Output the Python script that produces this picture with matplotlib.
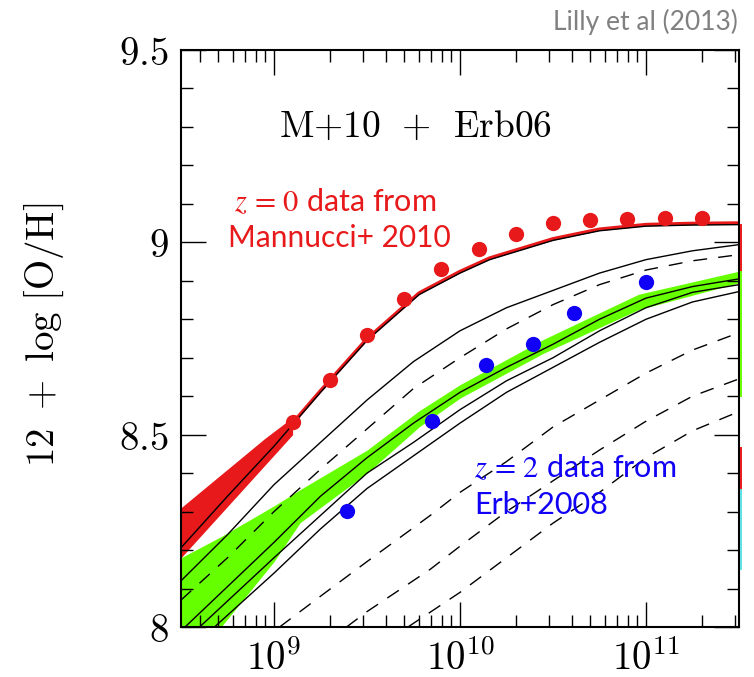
import numpy as np
import matplotlib.pyplot as plt
from matplotlib.ticker import FixedLocator, MultipleLocator, NullFormatter

plt.rcParams['mathtext.fontset'] = 'cm'

# z=0 data (Mannucci+ 2010): log stellar mass, 12+log(O/H)
mannucci_logm = [9.1, 9.3, 9.5, 9.7, 9.9, 10.1, 10.3, 10.5, 10.7, 10.9, 11.1, 11.3]
mannucci_oh = [8.534, 8.643, 8.760, 8.853, 8.931, 8.983, 9.022, 9.051, 9.058, 9.061, 9.064, 9.064]

# z=2 data (Erb+ 2006/2008)
erb_logm = [9.395, 9.847, 10.142, 10.395, 10.615, 11.001]
erb_oh = [8.301, 8.536, 8.682, 8.736, 8.817, 8.897]

# model curves: (log M, 12+log O/H)
solid_1 = [(8.5, 8.206), (8.75, 8.34), (9.0, 8.47), (9.25, 8.61), (9.5, 8.745), (9.78, 8.864),
           (10.0, 8.92), (10.16, 8.955), (10.5, 9.005), (10.75, 9.03), (11.0, 9.042),
           (11.25, 9.045), (11.5, 9.046)]
solid_2 = [(8.5, 8.12), (8.75, 8.24), (9.0, 8.37), (9.25, 8.48), (9.5, 8.59), (9.75, 8.69),
           (10.0, 8.77), (10.25, 8.83), (10.5, 8.875), (10.75, 8.92), (11.0, 8.955),
           (11.25, 8.978), (11.5, 8.994)]
solid_3 = [(8.5, 7.99), (9.0, 8.22), (9.25, 8.34), (9.5, 8.44), (9.75, 8.53),
           (10.0, 8.61), (10.25, 8.675), (10.5, 8.735), (10.75, 8.80), (11.0, 8.855),
           (11.25, 8.885), (11.5, 8.905)]
solid_4 = [(8.6, 8.0), (9.0, 8.18), (9.25, 8.29), (9.5, 8.40), (9.75, 8.48),
           (10.0, 8.565), (10.25, 8.64), (10.5, 8.70), (10.75, 8.77), (11.0, 8.83),
           (11.25, 8.87), (11.5, 8.89)]
solid_5 = [(8.68, 8.0), (9.0, 8.14), (9.25, 8.255), (9.5, 8.36), (9.75, 8.445),
           (10.0, 8.53), (10.25, 8.61), (10.5, 8.675), (10.75, 8.74), (11.0, 8.80),
           (11.25, 8.845), (11.5, 8.872)]
dashed_1 = [(8.5, 8.07), (8.75, 8.18), (9.0, 8.30), (9.25, 8.41), (9.5, 8.515), (9.75, 8.62),
            (10.0, 8.70), (10.25, 8.775), (10.5, 8.838), (10.75, 8.89), (11.0, 8.928),
            (11.25, 8.952), (11.5, 8.968)]
dashed_2 = [(9.03, 8.0), (9.25, 8.08), (9.5, 8.17), (9.84, 8.29), (10.0, 8.35), (10.25, 8.43),
            (10.5, 8.52), (10.75, 8.59), (11.0, 8.66), (11.25, 8.72), (11.5, 8.765)]
dashed_3 = [(9.39, 8.0), (9.5, 8.04), (9.84, 8.15), (10.0, 8.21), (10.25, 8.30), (10.5, 8.38),
            (10.75, 8.46), (11.0, 8.535), (11.25, 8.60), (11.5, 8.645)]
dashed_4 = [(9.72, 8.0), (10.0, 8.09), (10.25, 8.18), (10.5, 8.27), (10.75, 8.35),
            (11.0, 8.44), (11.25, 8.51), (11.5, 8.56)]

# shaded ranges: log M, lower, upper
red_band_logm = [8.5, 8.65, 8.8, 8.95, 9.1]
red_band_lo = [8.18, 8.26, 8.34, 8.42, 8.50]
red_band_hi = [8.31, 8.37, 8.43, 8.49, 8.545]

green_band_logm = [8.5, 8.715, 9.0, 9.14, 9.5, 9.78, 10.0, 10.45, 10.96, 11.5]
green_band_lo = [7.9, 8.0, 8.17, 8.271, 8.40, 8.52, 8.595, 8.712, 8.825, 8.895]
green_band_hi = [8.18, 8.235, 8.315, 8.357, 8.46, 8.562, 8.63, 8.748, 8.865, 8.925]

# coloured bits from the neighbouring panel, on the right edge
edge_bits = [('#e8191a', 8.923, 9.045), ('#66ff00', 8.60, 8.923),
             ('#e8191a', 8.357, 8.466), ('#5ce1e6', 8.15, 8.357)]

RED = '#e8191a'
BLUE = '#1000f5'
GREEN = '#66ff00'


def unpack(curve):
    lm, oh = zip(*curve)
    return 10 ** np.array(lm), np.array(oh)


fig = plt.figure(figsize=(7.54, 6.77), dpi=100)
ax = fig.add_axes([181 / 754, 1 - 627 / 677, 558 / 754, 577 / 677])
ax.set_xscale('log')

ax.fill_between(10 ** np.array(green_band_logm), green_band_lo, green_band_hi,
                color=GREEN, lw=0, zorder=1)
ax.fill_between(10 ** np.array(red_band_logm), red_band_lo, red_band_hi,
                color=RED, lw=0, zorder=1)

x, y = unpack(solid_1)
ax.plot(x, y + 0.004, color=RED, lw=2.6, zorder=2, solid_joinstyle='round')
for c in [solid_1, solid_2, solid_3, solid_4, solid_5]:
    x, y = unpack(c)
    ax.plot(x, y, color='black', lw=1.0, zorder=3, solid_joinstyle='round')
for c in [dashed_1, dashed_2, dashed_3, dashed_4]:
    x, y = unpack(c)
    ax.plot(x, y, color='black', lw=1.0, dashes=(10, 8), zorder=3)

ax.plot(10 ** np.array(mannucci_logm), mannucci_oh, 'o', color=RED, ms=11, mec='none', zorder=4)
ax.plot(10 ** np.array(erb_logm), erb_oh, 'o', color=BLUE, ms=11, mec='none', zorder=4)

for col, lo, hi in edge_bits:
    ax.plot([1.003, 1.003], [lo, hi], color=col, lw=1.4, transform=ax.get_yaxis_transform(),
            clip_on=False, zorder=5)

ax.set_xlim(10 ** 8.5, 10 ** 11.5)
ax.set_ylim(8, 9.5)

ax.xaxis.set_major_locator(FixedLocator([1e9, 1e10, 1e11]))
ax.set_xticklabels([r'$10^{9}$', r'$10^{10}$', r'$10^{11}$'])
ax.xaxis.set_minor_locator(FixedLocator([k * 10 ** e for e in range(8, 12) for k in range(2, 10)]))
ax.xaxis.set_minor_formatter(NullFormatter())
ax.set_yticks([8, 8.5, 9, 9.5])
ax.set_yticklabels([r'$8$', r'$8.5$', r'$9$', r'$9.5$'])
ax.yaxis.set_minor_locator(MultipleLocator(0.1))

ax.tick_params(which='both', direction='in', top=True, right=True, width=1.0, labelsize=28)
ax.tick_params(which='major', length=18, pad=9)
ax.tick_params(which='minor', length=8.5)
for s in ax.spines.values():
    s.set_linewidth(1.5)

fig.text(44 / 754, 1 - 335 / 677, r'$\mathrm{12\ +\ log\ [O/H]}$', rotation=90,
         ha='center', va='center', fontsize=28)

ax.text(0.421, 0.867, r'$\mathrm{M{+}10\ \ {+}\ \ Erb06}$', ha='center', va='center',
        fontsize=27, transform=ax.transAxes)

ax.text(0.095, 0.738, r'$z\,=\,0$ data from', color=RED, fontsize=22, family='Lato',
        math_fontfamily='stix', ha='left', va='center', transform=ax.transAxes)
ax.text(0.084, 0.675, 'Mannucci+ 2010', color=RED, fontsize=21.5, family='Lato',
        ha='left', va='center', transform=ax.transAxes)
ax.text(0.525, 0.277, r'$z\,=\,2$ data from', color=BLUE, fontsize=22, family='Lato',
        math_fontfamily='stix', ha='left', va='center', transform=ax.transAxes)
ax.text(0.525, 0.2114, 'Erb+2008', color=BLUE, fontsize=22, family='Lato',
        ha='left', va='center', transform=ax.transAxes)

fig.text(738 / 754, 1 - 22 / 677, 'Lilly et al (2013)', color='#808080', fontsize=19,
         family='Lato', ha='right', va='center')

fig.savefig('out.png', dpi=100)
